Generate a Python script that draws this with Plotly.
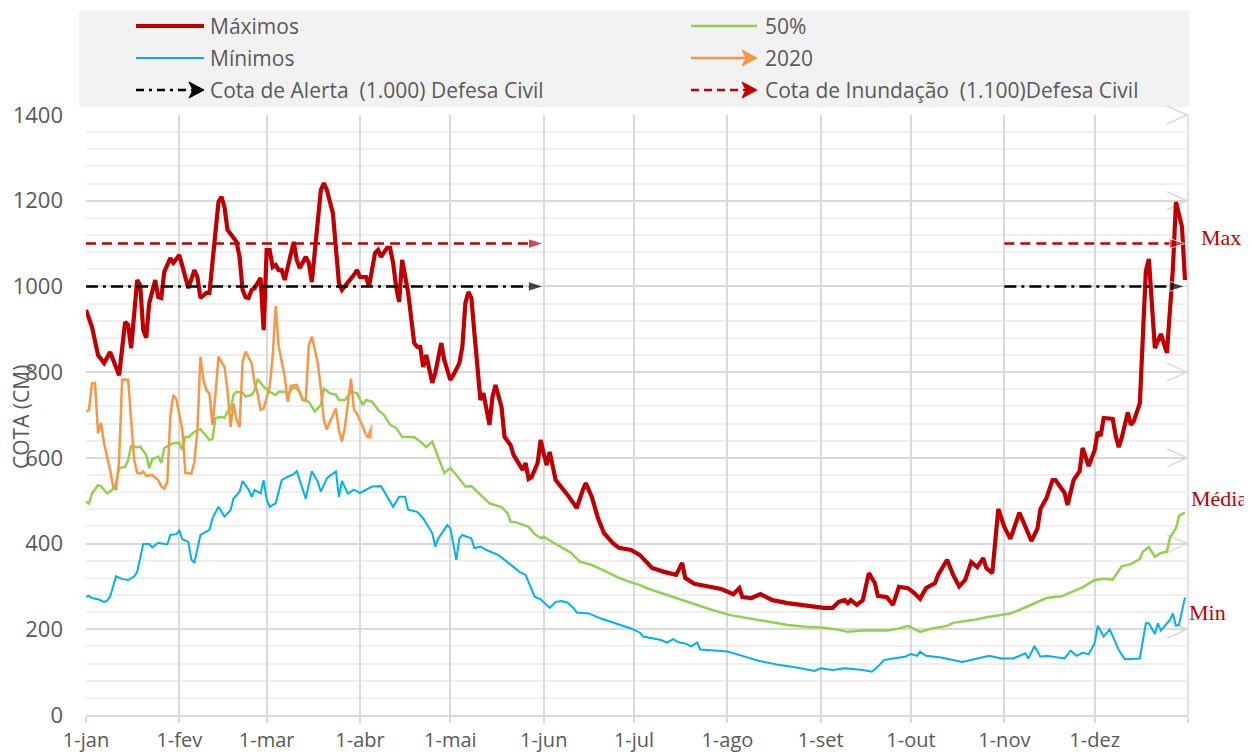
import pandas as pd
import plotly.graph_objects as go

# ---------------- data (day of year 2020, value in cm) ----------------
max_days = [0,2,4,6,8,11,13,14,15,17,18,19,20,21,23,24,25,26,28,29,31,33,34,36,37,38,40,41,42,44,45,46,47,50,51,52,53,54,55,56,58,59,60,61,62,63,64,65,66,68,69,70,71,73,74,75,77,78,79,80,82,83,84,85,87,89,90,91,93,94,96,97,98,100,101,102,103,104,105,107,109,110,111,112,113,115,116,118,119,121,122,124,125,126,127,128,129,130,131,132,134,135,136,138,139,141,142,145,146,147,148,150,151,152,153,154,156,160,163,165,166,168,170,172,175,177,181,184,186,188,192,196,198,199,202,207,211,215,217,218,221,224,228,233,237,242,245,248,250,252,253,254,256,258,260,262,263,266,268,270,273,275,277,279,282,283,286,288,290,292,294,296,298,299,301,303,305,307,310,311,314,316,317,319,321,322,325,326,328,330,331,333,335,336,337,338,341,342,343,344,346,347,348,350,351,352,353,354,355,357,358,359,361,362,364,365]
max_vals = [945,905,840,821,847,793,917,910,856,1015,1003,898,880,961,1015,975,973,1034,1066,1055,1073,1022,996,1038,1022,973,985,985,1055,1197,1209,1185,1132,1104,1069,992,975,973,992,996,1020,898,1085,1085,1045,1050,1038,1038,1015,1069,1104,1062,1043,1069,1055,1010,1155,1225,1241,1225,1171,1101,1008,992,1008,1027,1038,1022,1022,1000,1078,1085,1069,1090,1090,1055,999,964,1062,985,868,859,859,812,840,775,798,868,828,782,793,821,859,961,987,973,891,805,735,751,677,742,770,719,649,630,607,572,588,551,555,588,642,611,583,614,548,513,483,525,541,509,460,425,401,390,385,373,357,343,334,327,355,320,306,299,294,282,296,275,273,282,268,261,257,254,250,250,264,268,261,268,257,268,331,308,278,275,257,299,296,285,271,296,308,327,362,327,300,315,357,345,366,343,331,481,439,411,472,456,406,435,481,506,548,548,518,490,548,569,623,581,618,660,651,693,691,651,625,647,706,677,686,727,868,1036,1064,968,856,889,868,845,1043,1197,1139,1015]

med_days = [0,1,2,4,5,7,9,10,11,13,14,15,17,18,20,21,22,24,25,26,29,31,32,33,34,36,38,40,41,42,43,45,46,47,48,49,50,52,53,55,56,57,59,60,61,63,64,66,67,69,71,72,74,76,78,79,81,83,84,86,88,90,92,93,95,97,99,101,103,105,109,111,113,115,116,118,119,121,123,126,128,132,134,138,140,141,143,147,149,151,152,156,161,164,168,173,177,182,184,187,193,200,204,208,214,222,227,233,239,244,249,253,259,266,270,273,277,281,286,288,291,295,299,303,307,310,315,319,324,328,331,335,338,341,344,347,350,351,353,355,357,359,360,362,363,364,365]
med_vals = [498,494,517,536,534,517,527,541,576,579,595,628,625,626,607,576,597,603,588,623,634,635,618,649,648,661,667,649,642,644,693,696,693,708,712,747,754,752,743,747,758,784,766,760,754,747,754,754,747,766,754,735,731,708,723,762,751,747,735,735,754,751,723,735,731,712,700,677,670,649,648,638,625,638,618,583,565,576,560,533,534,506,494,485,471,451,449,439,422,413,416,399,379,358,350,334,320,307,303,294,280,264,253,245,233,223,218,210,206,204,200,194,198,197,202,208,194,202,208,215,218,222,228,233,237,245,260,273,277,289,298,315,318,316,347,352,364,381,392,369,378,381,414,435,464,469,472]

min_days = [0,1,2,4,6,7,8,10,12,14,16,17,19,21,22,24,27,28,30,31,32,34,35,36,38,40,41,42,44,46,48,49,51,52,54,55,56,58,59,60,61,63,65,67,69,70,72,73,75,77,78,80,81,83,84,85,87,89,91,93,95,98,100,102,104,106,107,110,112,114,115,116,117,120,121,123,124,125,128,129,131,133,135,137,139,141,143,144,146,147,149,151,154,156,158,160,162,163,167,171,174,178,181,184,185,191,193,195,197,199,201,203,204,210,213,218,223,230,236,242,244,248,252,258,261,263,265,268,272,274,276,277,279,284,291,295,300,304,308,312,313,315,317,319,325,327,329,331,333,335,336,338,340,343,345,350,352,353,355,356,357,360,361,362,363,365]
min_vals = [276,278,273,270,264,267,276,324,317,315,323,334,399,399,391,402,398,420,422,430,410,404,363,355,420,428,432,459,486,463,478,505,521,546,526,509,525,517,548,502,486,494,548,556,562,569,529,505,569,544,521,552,558,568,509,546,517,526,518,526,533,534,509,486,509,509,479,474,459,436,424,393,412,443,436,362,412,420,412,389,393,385,379,373,362,350,338,334,327,310,276,270,250,264,266,262,249,239,237,225,218,210,202,192,183,175,169,177,169,167,160,169,153,150,148,138,127,117,111,103,109,105,109,105,101,113,128,132,136,142,138,148,138,134,124,130,138,132,132,144,132,161,136,138,132,150,138,145,142,167,208,183,200,152,130,132,214,214,189,214,197,222,237,208,210,274]

y2020_days = [0,1,2,3,4,5,6,8,9,10,11,12,13,14,16,17,18,19,20,22,24,25,26,27,28,29,30,32,33,35,36,37,38,39,40,41,42,43,44,46,47,48,49,50,51,52,53,55,56,57,58,59,61,62,63,64,66,67,68,70,72,73,74,75,77,78,79,80,81,83,84,85,86,87,88,89,90,92,93,94,95]
y2020_vals = [708,712,774,775,657,682,634,572,533,525,595,782,783,782,595,565,563,568,558,560,548,534,528,544,696,747,737,665,565,563,591,665,836,782,758,750,677,747,836,812,758,672,727,688,672,824,848,821,774,750,712,715,766,836,954,860,790,731,768,770,735,735,863,883,821,762,688,666,684,715,665,638,672,727,785,712,703,672,653,649,677]

alert_level = 1000
flood_level = 1100
threshold_dates = ["2020-01-01", "2020-06-01", None, "2020-11-01", "2020-12-31"]

month_ticks = ["2020-01-01","2020-02-01","2020-03-01","2020-04-01","2020-05-01","2020-06-01",
               "2020-07-01","2020-08-01","2020-09-01","2020-10-01","2020-11-01","2020-12-01","2021-01-01"]
month_labels = ["1-jan","1-fev","1-mar","1-abr","1-mai","1-jun","1-jul","1-ago","1-set","1-out","1-nov","1-dez",""]
y_ticks = [0, 200, 400, 600, 800, 1000, 1200, 1400]

# ---------------- helpers ----------------
base = pd.Timestamp("2020-01-01")
def to_dates(days):
    return [base + pd.Timedelta(days=d) for d in days]

# the page is shown with an 8px body margin, so the figure is 8px smaller
W, H = 1244, 748
L, R, T, B = 78, 64, 107, 41
PW, PH = W - L - R, H - T - B
# screen-pixel -> paper helpers (plot area on screen: x 86..1188, y 115..715)
def px(x):
    return (x - 86) / PW
def py(y):
    return (715 - y) / PH

RED = "#c00000"
GREEN = "#92d050"
BLUE = "#00b0f0"
ORANGE = "#f79646"
TXT = "#595959"
GRID = "#d9d9d9"

fig = go.Figure()

fig.add_trace(go.Scatter(x=to_dates(min_days), y=min_vals, mode="lines",
                         line=dict(color=BLUE, width=2), name="Mínimos", showlegend=False))
fig.add_trace(go.Scatter(x=to_dates(med_days), y=med_vals, mode="lines",
                         line=dict(color=GREEN, width=2.5), name="50%", showlegend=False))
fig.add_trace(go.Scatter(x=to_dates(max_days), y=max_vals, mode="lines",
                         line=dict(color=RED, width=4.2), name="Máximos", showlegend=False))
n20 = len(y2020_days)
fig.add_trace(go.Scatter(x=to_dates(y2020_days), y=y2020_vals, mode="lines+markers",
                         line=dict(color=ORANGE, width=2.5),
                         marker=dict(symbol="arrow", angleref="previous", color=ORANGE,
                                     size=[0] * (n20 - 1) + [15]),
                         name="2020", showlegend=False))

def thr_y(v):
    return [v if d is not None else None for d in threshold_dates]

fig.add_trace(go.Scatter(x=threshold_dates, y=thr_y(alert_level), mode="lines+markers",
                         line=dict(color="black", width=2.5, dash="12px,5px,3px,5px"),
                         marker=dict(symbol="arrow", angleref="previous", color="black",
                                     size=[0, 16, 0, 0, 16]),
                         name="Cota de Alerta", showlegend=False, connectgaps=False))
fig.add_trace(go.Scatter(x=threshold_dates, y=thr_y(flood_level), mode="lines+markers",
                         line=dict(color=RED, width=2.5, dash="10px,6px"),
                         marker=dict(symbol="arrow", angleref="previous", color=RED,
                                     size=[0, 16, 0, 0, 16]),
                         name="Cota de Inundação", showlegend=False, connectgaps=False))

shapes = []
annotations = []

# legend box
shapes.append(dict(type="rect", xref="paper", yref="paper", x0=px(79), x1=px(1189),
                   y0=py(107), y1=py(11), fillcolor="#f2f2f2", line=dict(width=0), layer="below"))

def leg_line(x0, x1, y, color, width, dash="solid", arrow=False):
    shapes.append(dict(type="line", xref="paper", yref="paper", x0=px(x0), x1=px(x1 - (6 if arrow else 0)),
                       y0=py(y), y1=py(y), line=dict(color=color, width=width, dash=dash)))
    if arrow:
        tip = x1
        path = (f"M {px(tip)},{py(y)} L {px(tip-15)},{py(y-8)} L {px(tip-11)},{py(y)} "
                f"L {px(tip-15)},{py(y+8)} Z")
        shapes.append(dict(type="path", xref="paper", yref="paper", path=path,
                           fillcolor=color, line=dict(color=color, width=1)))

def leg_text(x, y, text):
    annotations.append(dict(x=px(x), y=py(y), xref="paper", yref="paper", text=text,
                            showarrow=False, xanchor="left", yanchor="middle",
                            font=dict(family="Open Sans", size=21, color=TXT)))

rows = [26, 58, 90]
leg_line(136, 204, rows[0], RED, 4)
leg_text(208, rows[0], "Máximos")
leg_line(136, 204, rows[1], BLUE, 2)
leg_text(208, rows[1], "Mínimos")
leg_line(136, 204, rows[2], "black", 2.5, "8px,5px,3px,5px", arrow=True)
leg_text(208, rows[2], "Cota de Alerta  (1.000) Defesa Civil")
leg_line(691, 757, rows[0], GREEN, 2.5)
leg_text(763, rows[0], "50%")
leg_line(691, 757, rows[1], ORANGE, 2.5, arrow=True)
leg_text(763, rows[1], "2020")
leg_line(691, 757, rows[2], RED, 2.5, "8px,5px", arrow=True)
leg_text(763, rows[2], "Cota de Inundação  (1.100)Defesa Civil")

# right edge line and chevrons
shapes.append(dict(type="line", xref="paper", yref="paper", x0=1, x1=1, y0=0, y1=1,
                   line=dict(color=GRID, width=1.5), layer="below"))
for v in [200, 400, 600, 800, 1200, 1400]:
    yy = v / 1400
    path = f"M {px(1167)},{yy + 9/PH} L {px(1187)},{yy} L {px(1167)},{yy - 9/PH}"
    shapes.append(dict(type="path", xref="paper", yref="paper", path=path,
                       line=dict(color=GRID, width=1.5), layer="below"))

# right labels
for text, x, y in [("Max", 1199, 237), ("Média", 1189, 498), ("Min", 1187, 612)]:
    annotations.append(dict(x=px(x), y=py(y), xref="paper", yref="paper", text=text,
                            showarrow=False, xanchor="left", yanchor="middle",
                            font=dict(family="Liberation Serif", size=22, color=RED)))

# y-axis title
annotations.append(dict(x=px(21), y=py(417), xref="paper", yref="paper", text="COTA (CM)",
                        showarrow=False, textangle=-90, xanchor="center", yanchor="middle",
                        font=dict(family="Open Sans", size=21, color=TXT)))

fig.update_layout(
    width=W, height=H,
    margin=dict(l=L, r=R, t=T, b=B, autoexpand=False),
    paper_bgcolor="white", plot_bgcolor="white",
    showlegend=False,
    shapes=shapes, annotations=annotations,
    xaxis=dict(type="date", range=["2020-01-01", "2021-01-01"],
               tickmode="array", tickvals=month_ticks, ticktext=month_labels,
               showgrid=True, gridcolor=GRID, gridwidth=1.5,
               showline=True, linecolor=GRID, linewidth=1.5,
               ticks="outside", ticklen=6, tickcolor=GRID, tickwidth=1.5,
               ticklabelstandoff=0,
               tickfont=dict(family="Open Sans", size=20, color=TXT),
               zeroline=False, fixedrange=True),
    yaxis=dict(range=[0, 1400], tickmode="array", tickvals=y_ticks,
               showgrid=True, gridcolor=GRID, gridwidth=1.5,
               minor=dict(dtick=40, showgrid=True, gridcolor="#efefef", gridwidth=1.5),
               showline=False, zeroline=False, ticks="",
               ticklabelstandoff=22,
               tickfont=dict(family="Open Sans", size=22, color=TXT), fixedrange=True),
)

fig.write_html("out.html")
